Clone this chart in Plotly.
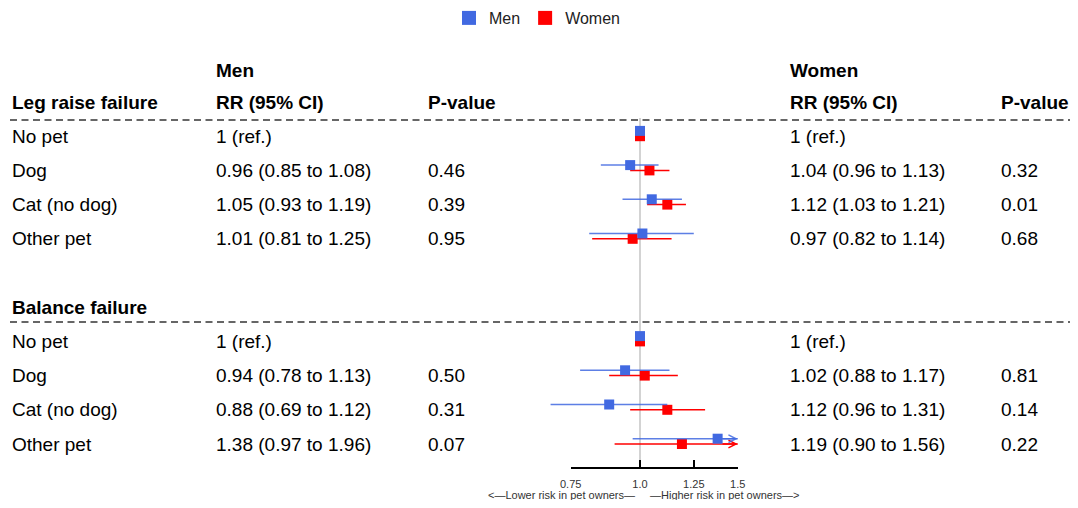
import numpy as np
import plotly.graph_objects as go

# ---------------- data ----------------
categories = ["No pet", "Dog", "Cat (no dog)", "Other pet"]
outcomes = ["Leg raise failure", "Balance failure"]

leg_men_rr = [1.00, 0.96, 1.05, 1.01]
leg_men_lo = [1.00, 0.85, 0.93, 0.81]
leg_men_hi = [1.00, 1.08, 1.19, 1.25]
leg_men_p = [None, "0.46", "0.39", "0.95"]

leg_women_rr = [1.00, 1.04, 1.12, 0.97]
leg_women_lo = [1.00, 0.96, 1.03, 0.82]
leg_women_hi = [1.00, 1.13, 1.21, 1.14]
leg_women_p = [None, "0.32", "0.01", "0.68"]

bal_men_rr = [1.00, 0.94, 0.88, 1.38]
bal_men_lo = [1.00, 0.78, 0.69, 0.97]
bal_men_hi = [1.00, 1.13, 1.12, 1.96]
bal_men_p = [None, "0.50", "0.31", "0.07"]

bal_women_rr = [1.00, 1.02, 1.12, 1.19]
bal_women_lo = [1.00, 0.88, 0.96, 0.90]
bal_women_hi = [1.00, 1.17, 1.31, 1.56]
bal_women_p = [None, "0.81", "0.14", "0.22"]

tick_vals = [0.75, 1.0, 1.25, 1.5]
tick_text = ["0.75", "1.0", "1.25", "1.5"]
ref_value = 1.0

# ---------------- layout helpers ----------------
SCREEN_W, SCREEN_H = 1078, 508
OFF = 8                       # default page body margin
W, H = SCREEN_W - OFF, SCREEN_H - 2 * OFF   # keep the page free of scrollbars

MEN_C = "#4169E1"
MEN_LINE = "rgba(65,105,225,0.85)"
WOMEN_C = "#FF0000"
FONT = "Liberation Sans, Arial, sans-serif"
FS = 19
TXT_PAD = 2

ROW0_PX, ROW_H = 102.0, 34.2
PLOT_TOP_PX = OFF
PLOT_BOTTOM_PX = 467
PLOT_H = PLOT_BOTTOM_PX - PLOT_TOP_PX

def k_of(px):
    return (px - ROW0_PX) / ROW_H

def xp(px):          # screen px -> paper x
    return (px - OFF) / W

def yp(px):          # screen px -> paper y
    return 1 - (px - PLOT_TOP_PX) / PLOT_H

PX_PER_DEC = 555.0
PX_REF = 640.0
def xpx(v):
    return PX_REF + PX_PER_DEC * np.log10(v)

clip_hi = max(tick_vals)

blocks = [
    dict(title=outcomes[0], head=0,
         men=(leg_men_rr, leg_men_lo, leg_men_hi, leg_men_p),
         women=(leg_women_rr, leg_women_lo, leg_women_hi, leg_women_p)),
    dict(title=outcomes[1], head=6,
         men=(bal_men_rr, bal_men_lo, bal_men_hi, bal_men_p),
         women=(bal_women_rr, bal_women_lo, bal_women_hi, bal_women_p)),
]

MEN_OFF = -0.155
WOMEN_OFF = 0.0

fig = go.Figure()

# reference line
fig.add_trace(go.Scatter(x=[ref_value, ref_value], y=[k_of(118), k_of(PLOT_BOTTOM_PX)],
                         mode="lines", line=dict(color="#d3d3d3", width=2),
                         showlegend=False, hoverinfo="skip"))

annotations = []
def txt(text, px_x, k, bold=False, size=FS, color="#000000"):
    annotations.append(dict(
        text=f"<b>{text}</b>" if bold else text, x=xp(px_x - TXT_PAD), xref="paper",
        y=k, yref="y", xanchor="left", yanchor="middle", showarrow=False,
        font=dict(family=FONT, size=size, color=color)))

def fmt(rr, lo, hi, p):
    if p is None:
        return "1 (ref.)"
    return f"{rr:.2f} ({lo:.2f} to {hi:.2f})"

for sex, col, lcol, off in [("women", WOMEN_C, WOMEN_C, WOMEN_OFF), ("men", MEN_C, MEN_LINE, MEN_OFF)]:
    lx, ly, mx, my = [], [], [], []
    for b in blocks:
        rr, lo, hi, p = b[sex]
        for i in range(len(categories)):
            k = b["head"] + 1 + i + off
            lx += [lo[i], min(hi[i], clip_hi), None]
            ly += [k, k, None]
            mx.append(rr[i])
            my.append(k)
            if hi[i] > clip_hi:
                annotations.append(dict(
                    x=np.log10(clip_hi), y=k, xref="x", yref="y",
                    ax=np.log10(clip_hi) - 0.03, ay=k, axref="x", ayref="y",
                    text="", showarrow=True, arrowhead=5, arrowsize=1,
                    arrowwidth=1.5, arrowcolor=lcol))
    fig.add_trace(go.Scatter(x=lx, y=ly, mode="lines", line=dict(color=lcol, width=1.5),
                             showlegend=False, hoverinfo="skip"))
    fig.add_trace(go.Scatter(x=mx, y=my, mode="markers",
                             marker=dict(symbol="square", size=10, color=col, line=dict(width=0)),
                             showlegend=False, hoverinfo="skip"))

# legend-only traces
fig.add_trace(go.Scatter(x=[None], y=[None], mode="markers", name="Men",
                         marker=dict(symbol="square", size=14, color=MEN_C)))
fig.add_trace(go.Scatter(x=[None], y=[None], mode="markers", name="Women",
                         marker=dict(symbol="square", size=14, color=WOMEN_C)))

# dummy trace for the visible axis
fig.add_trace(go.Scatter(x=[1.0], y=[None], xaxis="x2", yaxis="y", showlegend=False,
                         hoverinfo="skip", mode="markers"))

# table text
COL_LABEL, COL_MRR, COL_MP, COL_WRR, COL_WP = 12, 216, 428, 790, 1001
txt("Men", COL_MRR, k_of(70), bold=True)
txt("Women", COL_WRR, k_of(70), bold=True)
for b in blocks:
    h = b["head"]
    txt(b["title"], COL_LABEL, h, bold=True)
    if h == 0:
        txt("RR (95% CI)", COL_MRR, h, bold=True)
        txt("P-value", COL_MP, h, bold=True)
        txt("RR (95% CI)", COL_WRR, h, bold=True)
        txt("P-value", COL_WP, h, bold=True)
    mrr, mlo, mhi, mp = b["men"]
    wrr, wlo, whi, wp = b["women"]
    for i, cat in enumerate(categories):
        k = h + 1 + i
        txt(cat, COL_LABEL, k)
        txt(fmt(mrr[i], mlo[i], mhi[i], mp[i]), COL_MRR, k)
        if mp[i]:
            txt(mp[i], COL_MP, k)
        txt(fmt(wrr[i], wlo[i], whi[i], wp[i]), COL_WRR, k)
        if wp[i]:
            txt(wp[i], COL_WP, k)

# axis caption
cap_y = yp(495)
annotations.append(dict(text="<—Lower risk in pet owners—", x=xp(637), xref="paper", y=cap_y,
                        yref="paper", xanchor="right", yanchor="middle", showarrow=False,
                        font=dict(family=FONT, size=11, color="#333333")))
annotations.append(dict(text="—Higher risk in pet owners—>", x=xp(648), xref="paper", y=cap_y,
                        yref="paper", xanchor="left", yanchor="middle", showarrow=False,
                        font=dict(family=FONT, size=11, color="#333333")))

shapes = []
for px_y in [120, 322]:
    yk = k_of(px_y)
    shapes.append(dict(type="line", xref="paper", yref="y", x0=xp(10), x1=xp(1072),
                       y0=yk, y1=yk, line=dict(color="#666666", width=2, dash="7px,4.5px")))

fig.update_layout(
    width=W, height=H,
    margin=dict(l=0, r=0, t=PLOT_TOP_PX - OFF, b=(OFF + H) - PLOT_BOTTOM_PX, autoexpand=False),
    paper_bgcolor="white", plot_bgcolor="rgba(0,0,0,0)",
    font=dict(family=FONT, color="#000000"),
    xaxis=dict(type="log", range=[(OFF - PX_REF) / PX_PER_DEC, (SCREEN_W - PX_REF) / PX_PER_DEC],
               domain=[0, 1], visible=False, fixedrange=True),
    xaxis2=dict(type="log", range=[np.log10(min(tick_vals)), np.log10(max(tick_vals))],
                domain=[xp(xpx(min(tick_vals))), xp(xpx(max(tick_vals)))], anchor="y",
                showline=True, linecolor="#000000", linewidth=1.5, ticks="inside",
                ticklen=7, tickwidth=1.5, tickcolor="#000000", tickvals=tick_vals,
                ticktext=tick_text, tickfont=dict(size=11, color="#333333", family=FONT),
                showgrid=False, zeroline=False, ticklabelstandoff=6, fixedrange=True),
    yaxis=dict(range=[k_of(PLOT_BOTTOM_PX), k_of(PLOT_TOP_PX)], visible=False, fixedrange=True),
    showlegend=True,
    legend=dict(orientation="h", x=xp(537), xanchor="center", y=yp(PLOT_TOP_PX - 7), yanchor="top",
                font=dict(size=16, family=FONT, color="#222222"), itemsizing="trace",
                bgcolor="rgba(0,0,0,0)"),
    annotations=annotations, shapes=shapes,
)

fig.write_html("out.html")
